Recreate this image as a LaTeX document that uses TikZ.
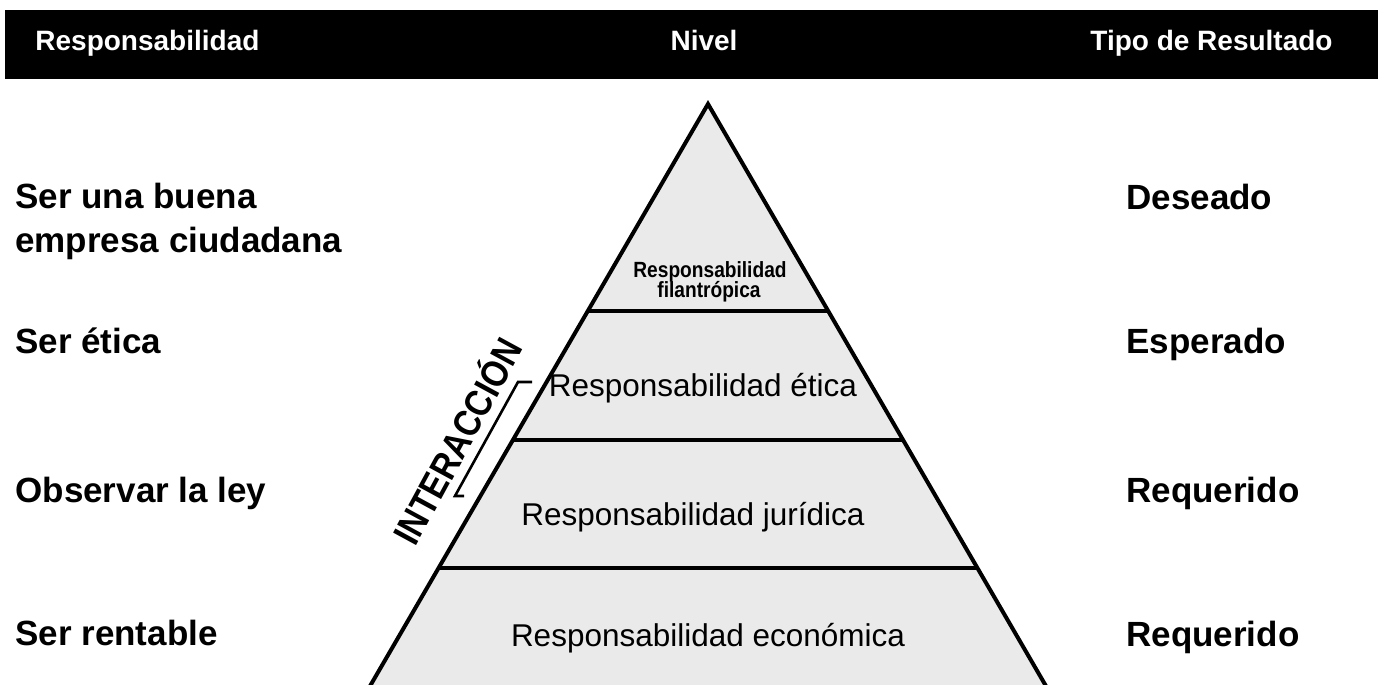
\documentclass[tikz,border=0pt]{standalone}
\usepackage{fontspec}
\setmainfont{Liberation Sans}
\usetikzlibrary{calc}
\definecolor{pyrfill}{RGB}{234,234,234}
\tikzset{
  hdr/.style={text=white, font=\bfseries\fontsize{14}{16}\selectfont, inner sep=0pt},
  lbl/.style={font=\bfseries\fontsize{17.5}{20}\selectfont, inner sep=0pt, anchor=base west},
  lvl/.style={font=\fontsize{15.75}{18}\selectfont, inner sep=0pt, anchor=base},
  lvlsmall/.style={font=\bfseries\fontsize{11}{12}\selectfont, inner sep=0pt, anchor=base},
  edge/.style={line width=2pt, line join=miter},
  divider/.style={line width=2pt},
  brk/.style={line width=1.3pt}
}
\begin{document}
\begin{tikzpicture}[x=0.5pt,y=-0.5pt]
\useasboundingbox (0,0) rectangle (1378,685);
\clip (0,0) rectangle (1378,685);
% header bar
\fill[black] (5,10) rectangle (1380,79);
\node[hdr, anchor=base west] (h1) at (35,50) {Responsabilidad};
\node[hdr, anchor=base] (h2) at (704,50) {Nivel};
\node[hdr, anchor=base west] (h3) at (1090,50) {Tipo de Resultado};
% pyramid
\coordinate (apex) at (708,104);
\coordinate (BL) at (366,693);
\coordinate (BR) at (1050,693);
\fill[pyrfill] (apex) -- (BR) -- (BL) -- cycle;
\coordinate (d1l) at ($(apex)!0.3515!(BL)$);
\coordinate (d1r) at ($(apex)!0.3515!(BR)$);
\coordinate (d2l) at ($(apex)!0.5705!(BL)$);
\coordinate (d2r) at ($(apex)!0.5705!(BR)$);
\coordinate (d3l) at ($(apex)!0.7878!(BL)$);
\coordinate (d3r) at ($(apex)!0.7878!(BR)$);
\draw[divider] (d1l) -- (d1r);
\draw[divider] (d2l) -- (d2r);
\draw[divider] (d3l) -- (d3r);
\draw[edge] (BL) -- (apex) -- (BR);
% level labels
\node[lvlsmall] (p1a) at (710,277) {\scalebox{0.87}[1]{Responsabilidad}};
\node[lvlsmall] (p1b) at (709,297) {\scalebox{0.87}[1]{filantrópica}};
\node[lvl] (p2) at (703,396) {Responsabilidad ética};
\node[lvl] (p3) at (693,525) {Responsabilidad jurídica};
\node[lvl] (p4) at (708,646) {Responsabilidad económica};
% left labels
\node[lbl] (l1a) at (15,208) {Ser una buena};
\node[lbl] (l1b) at (15,252) {empresa ciudadana};
\node[lbl] (l2) at (15,353) {Ser ética};
\node[lbl] (l3) at (15,502) {Observar la ley};
\node[lbl] (l4) at (15,645) {Ser rentable};
% right labels
\node[lbl] (r1) at (1126,209) {Deseado};
\node[lbl] (r2) at (1126,353) {Esperado};
\node[lbl] (r3) at (1126,502) {Requerido};
\node[lbl] (r4) at (1126,646) {Requerido};
% interaction
\node[font=\bfseries\fontsize{19}{21}\selectfont, inner sep=0pt, rotate=61.5] (int) at (455,440) {\scalebox{0.86}[1]{INTERACCIÓN}};
\coordinate (bk1) at (532,382);
\coordinate (bk2) at (518,382);
\coordinate (bk3) at (455,496);
\coordinate (bk4) at (464,496);
\draw[brk] (bk1) -- (bk2) -- (bk3) -- (bk4);
\end{tikzpicture}
\end{document}
